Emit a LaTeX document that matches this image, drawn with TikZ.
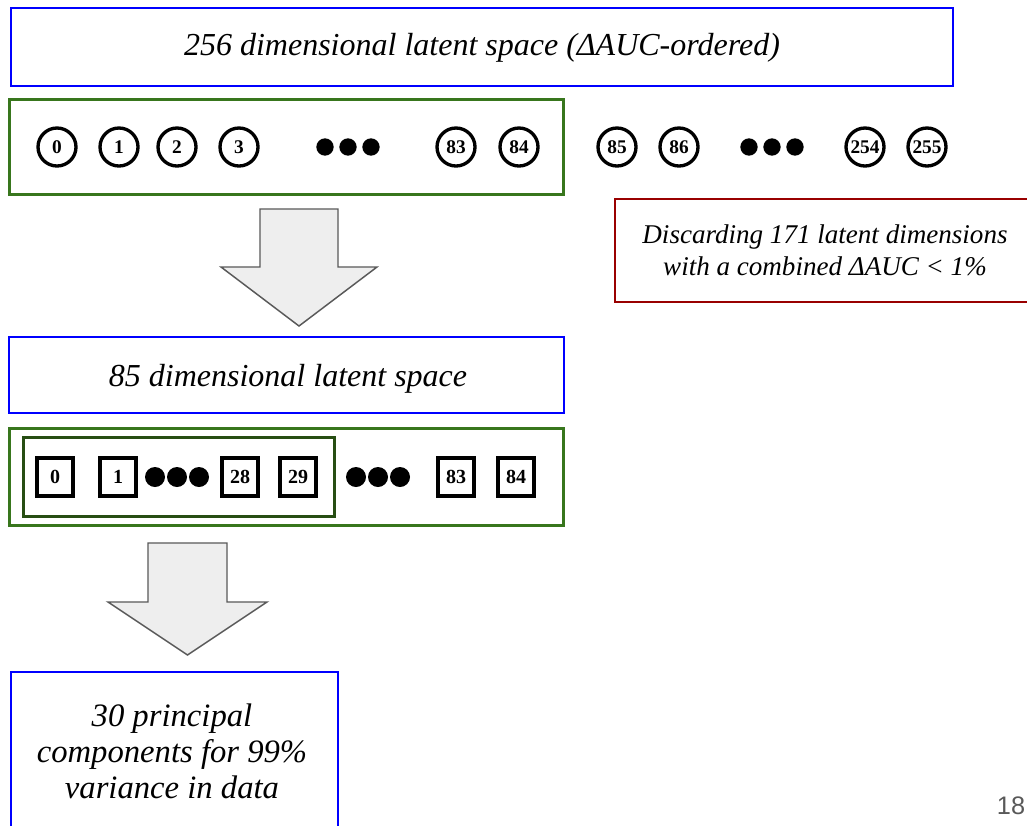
\documentclass[tikz,border=0pt]{standalone}
\usepackage{fontspec}
\setmainfont{Liberation Serif}
\setsansfont{Liberation Sans}
\definecolor{bboxblue}{RGB}{0,0,255}
\definecolor{gouter}{RGB}{56,118,29}
\definecolor{ginner}{RGB}{39,78,19}
\definecolor{rbox}{RGB}{153,0,0}
\definecolor{arrfill}{RGB}{238,238,238}
\definecolor{arrdraw}{RGB}{89,89,89}
\definecolor{pagenum}{RGB}{89,89,89}
\tikzset{
  bluebox/.style={draw=bboxblue, line width=1.4pt, inner sep=0pt},
  outergreen/.style={draw=gouter, line width=2.25pt, inner sep=0pt},
  innergreen/.style={draw=ginner, line width=2.25pt, inner sep=0pt},
  redbox/.style={draw=rbox, line width=1.1pt, inner sep=0pt},
  maintext/.style={font=\itshape\fontsize{24}{27}\selectfont, align=center, inner sep=0pt},
  redtext/.style={font=\itshape\fontsize{20.3}{24}\selectfont, align=center, inner sep=0pt},
  bottext/.style={font=\itshape\fontsize{24.5}{27}\selectfont, align=center, inner sep=0pt},
  latcirc/.style={circle, draw=black, line width=2.5pt, minimum size=28.5pt, inner sep=0pt, font=\bfseries\fontsize{14.5}{14.5}\selectfont},
  latsq/.style={rectangle, draw=black, line width=3pt, minimum width=27pt, minimum height=28.5pt, inner sep=0pt, font=\bfseries\fontsize{15}{15}\selectfont},
  bigdot/.style={circle, fill=black, inner sep=0pt, minimum size=13pt},
  bigdotb/.style={circle, fill=black, inner sep=0pt, minimum size=15pt},
  blockarrow/.style={fill=arrfill, draw=arrdraw, line width=1.1pt, line join=miter},
}
\begin{document}
\begin{tikzpicture}[x=0.75pt,y=-0.75pt]
\useasboundingbox (0,0) rectangle (1027,825);
\clip (0,0) rectangle (1027,825);
\fill[white] (0,0) rectangle (1027,825);

% top box
\node[bluebox, minimum width=706.5pt, minimum height=58.5pt] (top) at (482,47) {};
\node[maintext] (toptext) at (482,48) {256 dimensional latent space (ΔAUC-ordered)};

% first green box
\node[outergreen, minimum width=415.5pt, minimum height=71.25pt] (g1) at (286,146.5) {};
\node[latcirc] (c0) at (57,147) {0};
\node[latcirc] (c1) at (119,147) {1};
\node[latcirc] (c2) at (177,147) {2};
\node[latcirc] (c3) at (239,147) {3};
\node[bigdot] (d1a) at (325,147) {};
\node[bigdot] (d1b) at (348,147) {};
\node[bigdot] (d1c) at (371,147) {};
\node[latcirc] (c83) at (456,147) {83};
\node[latcirc] (c84) at (519,147) {84};
\node[latcirc] (c85) at (617,147) {85};
\node[latcirc] (c86) at (679,147) {86};
\node[bigdot] (d2a) at (749,147) {};
\node[bigdot] (d2b) at (772,147) {};
\node[bigdot] (d2c) at (795,147) {};
\node[latcirc] (c254) at (865,147) {254};
\node[latcirc] (c255) at (927,147) {255};

% red box
\node[redbox, minimum width=318.75pt, minimum height=77.25pt] (red) at (827.5,250.5) {};
\node[redtext] (redtext) at (825,250) {Discarding 171 latent dimensions\\with a combined ΔAUC < 1\%};

% arrow 1
\draw[blockarrow] (260,209) -- (338,209) -- (338,267) -- (377,267) -- (299,326) -- (221,267) -- (260,267) -- cycle;

% 85 box
\node[bluebox, minimum width=416.25pt, minimum height=57pt] (mid) at (286.5,375) {};
\node[maintext] (midtext) at (288,379) {85 dimensional latent space};

% second green box
\node[outergreen, minimum width=415.5pt, minimum height=72.75pt] (g2) at (286,476.5) {};
\node[innergreen, minimum width=233.25pt, minimum height=59.25pt] (g3) at (178.5,476.5) {};
\node[latsq] (s0) at (55,477) {0};
\node[latsq] (s1) at (118,477) {1};
\node[bigdotb] (d3a) at (155,477) {};
\node[bigdotb] (d3b) at (177,477) {};
\node[bigdotb] (d3c) at (199,477) {};
\node[latsq] (s28) at (240,477) {28};
\node[latsq] (s29) at (298,477) {29};
\node[bigdotb] (d4a) at (356,477) {};
\node[bigdotb] (d4b) at (378,477) {};
\node[bigdotb] (d4c) at (400,477) {};
\node[latsq] (s83) at (456,477) {83};
\node[latsq] (s84) at (516,477) {84};

% arrow 2
\draw[blockarrow] (148,543) -- (227,543) -- (227,602) -- (267,602) -- (187.5,655) -- (108,602) -- (148,602) -- cycle;

% bottom box
\node[bluebox, minimum width=245.25pt, minimum height=126pt] (bot) at (174.5,756) {};
\node[bottext] (bottext) at (172,751.5) {30 principal\\components for 99\%\\variance in data};

% page number
\node[font=\sffamily\fontsize{19}{19}\selectfont, text=pagenum, inner sep=0pt] (pnum) at (1011,806) {18};
\end{tikzpicture}
\end{document}
